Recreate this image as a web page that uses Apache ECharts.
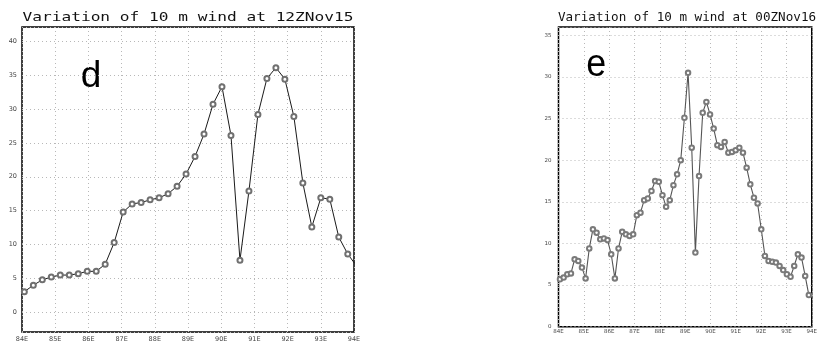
<!DOCTYPE html>
<html><head><meta charset="utf-8">
<script src="https://cdn.jsdelivr.net/npm/echarts@6/dist/echarts.min.js"></script>
<style>html,body{margin:0;padding:0;background:#fff}#c{width:820px;height:343px}</style>
</head><body><div id="c"></div>
<script>
// ---- data ----
const titleD = 'Variation of 10 m wind at 12ZNov15';
const titleE = 'Variation of 10 m wind at 00ZNov16';
const panelLetters = ['d', 'e'];
const lonTickLabels = ['84E','85E','86E','87E','88E','89E','90E','91E','92E','93E','94E'];
// model grid start longitude and spacing (degrees) for each panel
const lonStartD = 83.80, lonStepD = 0.2706;
const windD = [1.7, 3.05, 4.0, 4.8, 5.2, 5.5, 5.5, 5.7, 6.05, 6.05, 7.1, 10.3, 14.8, 16.0, 16.2, 16.6, 16.9, 17.5, 18.6, 20.4,
  23.0, 26.3, 30.7, 33.3, 26.1, 7.7, 17.9, 29.2, 34.5, 36.1, 34.4, 28.9, 19.1, 12.6, 16.9, 16.7, 11.1, 8.6, 6.8];
const lonStartE = 83.914, lonStepE = 0.1445;
const windE = [5.5, 5.7, 5.9, 6.3, 6.4, 8.1, 7.9, 7.1, 5.8, 9.4, 11.7, 11.3, 10.5, 10.6, 10.4, 8.7, 5.8, 9.4, 11.4, 11.1, 10.9,
  11.1, 13.4, 13.7, 15.2, 15.4, 16.3, 17.5, 17.4, 15.8, 14.4, 15.2, 17.0, 18.3, 20.0,
  25.1, 30.5, 21.5, 8.9, 18.1, 25.7, 27.0, 25.5, 23.8, 21.8, 21.6, 22.2, 20.9, 21.0, 21.2, 21.5, 20.9, 19.1, 17.1, 15.5,
  14.8, 11.7, 8.5, 7.9, 7.8, 7.7, 7.3, 6.8, 6.3, 6.0, 7.3, 8.7, 8.3, 6.1, 3.8, 3.5];

const ptsD = windD.map((v, i) => [lonStartD + i * lonStepD, v]);
const ptsE = windE.map((v, i) => [lonStartE + i * lonStepE, v]);

const chart = echarts.init(document.getElementById('c'), null, {renderer: 'canvas'});
const gridLine = {show: true, lineStyle: {type: [1, 3], color: '#b8b8b8', width: 1}};
const lab = (sz, m) => ({fontSize: sz, color: '#444', margin: m, fontFamily: 'DejaVu Sans'});
const xLabelFmt = v => lonTickLabels[Math.round(v) - 84] || '';

chart.setOption({
  animation: false,
  backgroundColor: '#fff',
  grid: [
    {left: 22, top: 27, width: 332, height: 310.7, show: true, borderColor: '#000', borderWidth: 1.5},
    {left: 558.5, top: 27, width: 258, height: 299.7, show: true, borderColor: '#000', borderWidth: 1.5}
  ],
  xAxis: [
    {gridIndex: 0, type: 'value', min: 84, max: 94, interval: 1,
     axisLine: {show: false}, axisTick: {show: false}, splitLine: gridLine,
     axisLabel: Object.assign(lab(6.5, 4), {formatter: xLabelFmt})},
    {gridIndex: 1, type: 'value', min: 84, max: 94, interval: 1,
     axisLine: {show: false}, axisTick: {show: false}, splitLine: gridLine,
     axisLabel: Object.assign(lab(5.5, 2), {formatter: xLabelFmt})}
  ],
  yAxis: [
    {gridIndex: 0, type: 'value', min: -2.9, max: 42.1, splitNumber: 9,
     axisLine: {show: false}, axisTick: {show: false}, splitLine: gridLine,
     axisLabel: Object.assign(lab(6.5, 5), {showMinLabel: false, showMaxLabel: false})},
    {gridIndex: 1, type: 'value', min: 0, max: 36, interval: 5,
     axisLine: {show: false}, axisTick: {show: false}, splitLine: gridLine,
     axisLabel: Object.assign(lab(5.5, 7), {showMaxLabel: false})}
  ],
  series: [
    {type: 'line', xAxisIndex: 0, yAxisIndex: 0, data: ptsD, clip: true,
     symbol: 'emptyCircle', symbolSize: 5, showAllSymbol: true,
     lineStyle: {color: '#1a1a1a', width: 1}, itemStyle: {color: '#707070', borderWidth: 0.7}},
    {type: 'line', xAxisIndex: 1, yAxisIndex: 1, data: ptsE, clip: true,
     symbol: 'emptyCircle', symbolSize: 4.5, showAllSymbol: true,
     lineStyle: {color: '#555', width: 1.1}, itemStyle: {color: '#7a7a7a', borderWidth: 0.7}}
  ],
  graphic: [
    {type: 'text', x: 188, y: 18, scaleX: 1.244,
     style: {text: titleD, x: 0, y: 0, font: '13px "DejaVu Sans Mono"', fill: '#111',
             textAlign: 'center', textVerticalAlign: 'middle', align: 'center', verticalAlign: 'middle'}},
    {type: 'text', x: 687, y: 18, scaleX: 0.97,
     style: {text: titleE, x: 0, y: 0, font: '13px "DejaVu Sans Mono"', fill: '#111',
             textAlign: 'center', textVerticalAlign: 'middle', align: 'center', verticalAlign: 'middle'}},
    {type: 'text', x: 91, y: 77,
     style: {text: panelLetters[0], x: 0, y: 0, font: '37px "Liberation Sans"', fill: '#000',
             textAlign: 'center', textVerticalAlign: 'middle', align: 'center', verticalAlign: 'middle'}},
    {type: 'text', x: 596.3, y: 65.3, scaleX: 0.92,
     style: {text: panelLetters[1], x: 0, y: 0, font: '39px "Liberation Sans"', fill: '#000',
             textAlign: 'center', textVerticalAlign: 'middle', align: 'center', verticalAlign: 'middle'}}
  ]
});
</script></body></html>
